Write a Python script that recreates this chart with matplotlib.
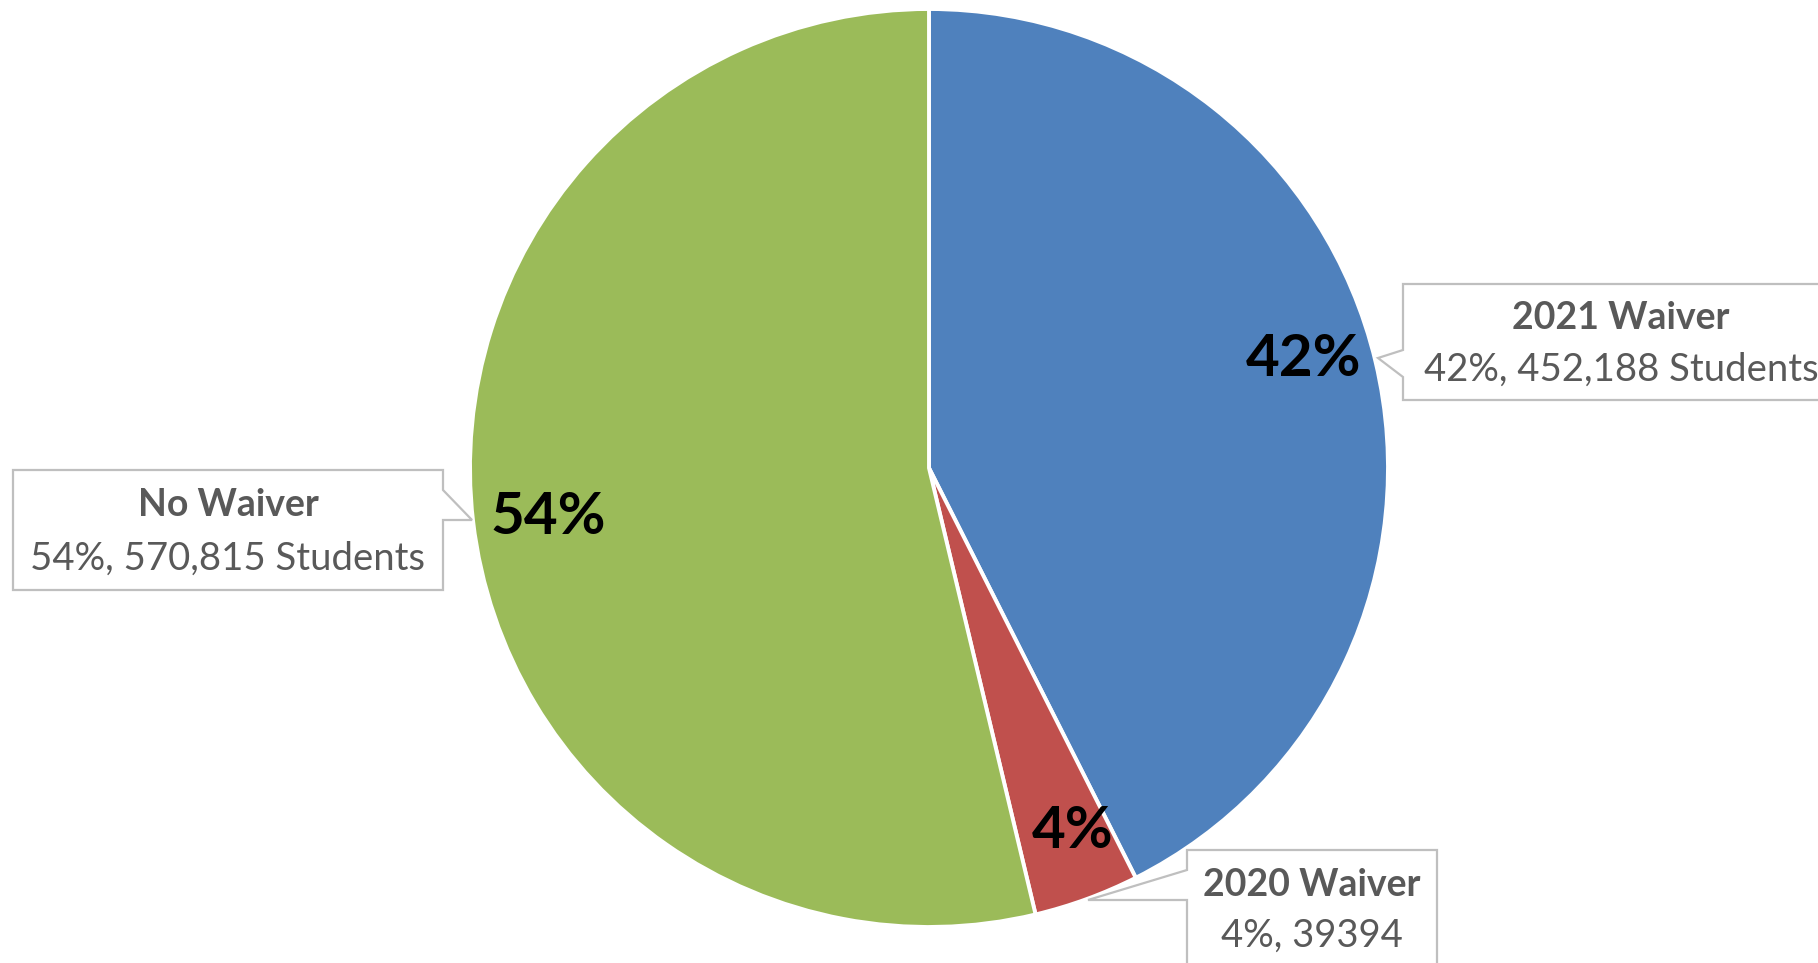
import matplotlib.pyplot as plt
from matplotlib.patches import Polygon

# data
groups = ['2021 Waiver', '2020 Waiver', 'No Waiver']
students = [452188, 39394, 570815]
pct_labels = ['42%', '4%', '54%']
detail_labels = ['42%, 452,188 Students', '4%, 39394', '54%, 570,815 Students']
colors = ['#4F81BD', '#C0504D', '#9BBB59']

W, H = 1818, 963
FONT = ['Lato', 'DejaVu Sans']

fig = plt.figure(figsize=(W / 100, H / 100), dpi=100)
ax = fig.add_axes([0, 0, 1, 1])

cx, cy, r = 929, 468, 459

# y axis is flipped below (pixel style), so startangle -90 + counterclock
# ends up as "clockwise from 12 o'clock" on screen, like excel
wedges, _ = ax.pie(students, colors=colors, startangle=-90, counterclock=True,
                   radius=r, center=(cx, cy),
                   wedgeprops=dict(edgecolor='white', linewidth=2.8))

# excel "best fit" spots for the inside labels
inner_pos = [(1304, 359), (1073, 832), (548, 518)]
for (x, y), lab in zip(inner_pos, pct_labels):
    ax.text(x, y, lab, ha='center', va='center', fontsize=42, fontweight='bold',
            color='black', family=FONT, zorder=4)

# callout boxes: outline with the little pointer notch
callouts = {
    '2021 Waiver': dict(pts=[(1403, 284), (1835, 284), (1835, 400), (1403, 400),
                             (1403, 377), (1378, 358), (1403, 350)],
                        tx=1621, ty=(318, 370)),
    '2020 Waiver': dict(pts=[(1187, 850), (1437, 850), (1437, 980), (1187, 980),
                             (1187, 900), (1088, 900), (1187, 870)],
                        tx=1312, ty=(885, 936)),
    'No Waiver': dict(pts=[(13, 470), (443, 470), (443, 490), (472, 520),
                           (443, 520), (443, 590), (13, 590)],
                      tx=228, ty=(505, 559)),
}

for name, detail in zip(groups, detail_labels):
    c = callouts[name]
    ax.add_patch(Polygon(c['pts'], closed=True, facecolor='white',
                         edgecolor='#BFBFBF', linewidth=1.6, zorder=3))
    ax.text(c['tx'], c['ty'][0], name, ha='center', va='center', fontsize=27,
            fontweight='bold', color='#595959', family=FONT, zorder=5)
    ax.text(c['tx'], c['ty'][1], detail, ha='center', va='center', fontsize=27.5,
            color='#595959', family=FONT, zorder=5)

ax.set_xlim(0, W)
ax.set_ylim(H, 0)
ax.axis('off')

fig.savefig('out.png', dpi=100, facecolor='white')
